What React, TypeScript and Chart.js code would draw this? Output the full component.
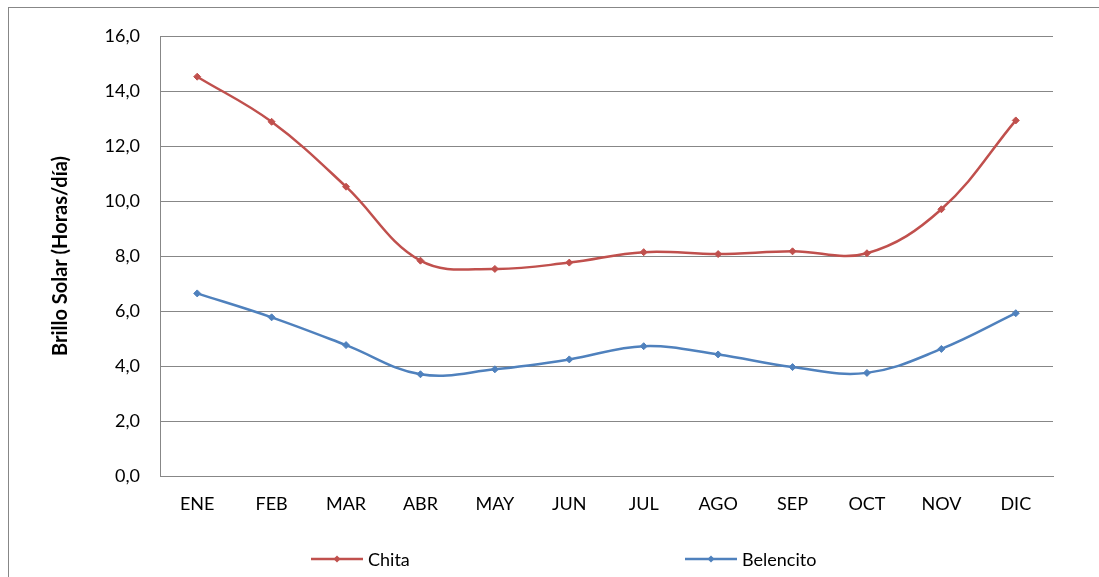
import React, { useEffect, useRef } from "react";
import { Chart, registerables } from "chart.js";

Chart.register(...registerables);

const months = ["ENE", "FEB", "MAR", "ABR", "MAY", "JUN", "JUL", "AGO", "SEP", "OCT", "NOV", "DIC"];
const chitaValues = [14.52, 12.88, 10.52, 7.83, 7.53, 7.76, 8.14, 8.07, 8.17, 8.1, 9.7, 12.93];
const belencitoValues = [6.64, 5.77, 4.76, 3.7, 3.88, 4.24, 4.72, 4.42, 3.96, 3.75, 4.62, 5.92];
const seriesNames = ["Chita", "Belencito"];
const seriesColors = ["#C0504D", "#4F81BD"];
const yAxisTitle = "Brillo Solar (Horas/día)";

const FONT = "Lato, 'Noto Sans', sans-serif";

const customLegend = {
  id: "customLegend",
  afterDraw(chart: any, _args: any, opts: any) {
    const ctx = chart.ctx;
    ctx.save();
    chart.data.datasets.forEach((ds: any, i: number) => {
      const x0 = opts.starts[i];
      const y = opts.y;
      const len = opts.lineLength;
      ctx.strokeStyle = ds.borderColor;
      ctx.lineWidth = 2.5;
      ctx.beginPath();
      ctx.moveTo(x0, y);
      ctx.lineTo(x0 + len, y);
      ctx.stroke();
      const cx = x0 + len / 2;
      const r = 3.5;
      ctx.fillStyle = ds.borderColor;
      ctx.beginPath();
      ctx.moveTo(cx, y - r);
      ctx.lineTo(cx + r, y);
      ctx.lineTo(cx, y + r);
      ctx.lineTo(cx - r, y);
      ctx.closePath();
      ctx.fill();
      ctx.fillStyle = "#000";
      ctx.font = `18px ${FONT}`;
      ctx.textBaseline = "middle";
      ctx.textAlign = "left";
      ctx.fillText(ds.label, x0 + len + 5, y + 1);
    });
    ctx.restore();
  },
};

export default function App() {
  const ref = useRef<HTMLCanvasElement | null>(null);

  useEffect(() => {
    if (!ref.current) return;
    const seriesData = [chitaValues, belencitoValues];
    const chart = new Chart(ref.current, {
      type: "line",
      data: {
        labels: months,
        datasets: seriesNames.map((name, i) => ({
          label: name,
          data: seriesData[i],
          borderColor: seriesColors[i],
          backgroundColor: seriesColors[i],
          borderWidth: 2.5,
          tension: 0.38,
          pointStyle: "rectRot",
          pointRadius: 3.5,
          pointBorderWidth: 1,
          pointBackgroundColor: seriesColors[i],
          pointBorderColor: seriesColors[i],
          fill: false,
        })),
      },
      options: {
        responsive: false,
        animation: false,
        layout: { padding: { top: 36, right: 46, left: 0, bottom: 0 } },
        plugins: {
          legend: { display: false },
          tooltip: { enabled: false },
          customLegend: { starts: [311, 685], y: 559, lineLength: 52 },
        } as any,
        scales: {
          x: {
            offset: true,
            grid: { display: false, drawTicks: false },
            border: { display: true, color: "#878787", width: 1 },
            ticks: { color: "#000", font: { family: FONT, size: 18 }, padding: 17, maxRotation: 0 },
            afterFit(scale: any) {
              scale.height = 101;
            },
          },
          y: {
            min: 0,
            max: 16,
            grid: { color: "#878787", lineWidth: 1, drawTicks: false },
            border: { display: true, color: "#878787", width: 1 },
            ticks: {
              stepSize: 2,
              color: "#000",
              padding: 20,
              font: { family: FONT, size: 18 },
              callback: (v: any) => Number(v).toFixed(1).replace(".", ","),
            },
            title: {
              display: true,
              text: yAxisTitle,
              color: "#000",
              font: { family: FONT, size: 20, weight: "bold" },
              padding: { top: 49, bottom: 0 },
            },
            afterFit(scale: any) {
              scale.width = 160;
            },
          },
        },
      },
      plugins: [customLegend],
    });
    return () => chart.destroy();
  }, []);

  return (
    <div style={{ position: "fixed", left: 0, top: 0, width: 1099, height: 577, overflow: "hidden", background: "#fff" }}>
      <div
        style={{
          position: "absolute",
          left: 8,
          top: 7,
          width: 1300,
          height: 800,
          borderTop: "1px solid #878787",
          borderLeft: "1px solid #878787",
        }}
      />
      <canvas ref={ref} width={1099} height={577} style={{ position: "absolute", left: 0, top: 0 }} />
    </div>
  );
}
